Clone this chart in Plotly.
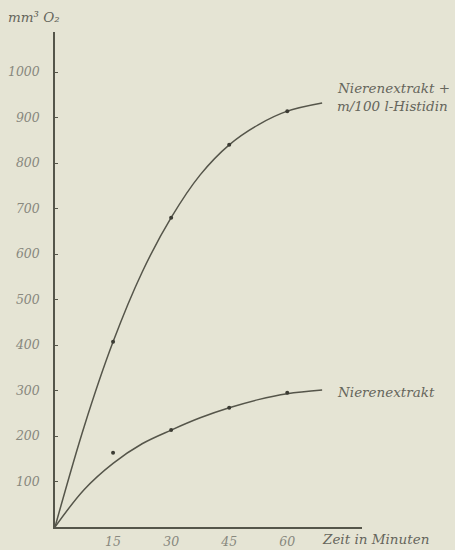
import plotly.graph_objects as go

# Measured oxygen uptake (mm³ O2) at the sampling times
times = [15, 30, 45, 60]
histidin_points = [407, 680, 840, 914]
extrakt_points = [163, 213, 262, 295]

# Hand-drawn smoothed curves through the measurements
curve_t = [0, 7.5, 15, 22.5, 30, 37.5, 45, 52.5, 60, 69]
histidin_curve = [0, 220, 407, 560, 680, 774, 840, 884, 914, 932]
extrakt_curve = [0, 82, 140, 183, 213, 240, 262, 280, 293, 301]

x_ticks = [15, 30, 45, 60]
y_ticks = [100, 200, 300, 400, 500, 600, 700, 800, 900, 1000]

ink = "#55554a"
paper = "#e5e4d4"
serif = "DejaVu Serif, Liberation Serif, serif"
label_font = dict(family=serif, size=13.5, color="#66665c", style="italic")
tick_font = dict(family=serif, size=12.5, color="#88887e", style="italic")

fig = go.Figure()
for ys in (histidin_curve, extrakt_curve):
    fig.add_trace(go.Scatter(x=curve_t, y=ys, mode="lines",
                             line=dict(color=ink, width=1.5, shape="spline", smoothing=1.0),
                             hoverinfo="skip", cliponaxis=False))
for ys in (histidin_points, extrakt_points):
    fig.add_trace(go.Scatter(x=times, y=ys, mode="markers",
                             marker=dict(color="#3c3c34", size=4), cliponaxis=False))

fig.update_layout(
    width=455, height=550,
    margin=dict(l=55, r=93, t=32, b=23),
    paper_bgcolor=paper, plot_bgcolor=paper,
    showlegend=False,
    xaxis=dict(range=[0, 79.3], tickvals=x_ticks, ticktext=[str(v) for v in x_ticks],
               showgrid=False, zeroline=False, showline=True, linecolor=ink, linewidth=1.5,
               ticks="", tickfont=tick_font, ticklabelstandoff=2, automargin=False),
    yaxis=dict(range=[0, 1088], tickvals=y_ticks, ticktext=[str(v) for v in y_ticks],
               showgrid=False, zeroline=False, showline=True, linecolor=ink, linewidth=1.5,
               ticks="inside", ticklen=3, tickcolor=ink, tickfont=tick_font, ticklabelstandoff=11,
               automargin=False),
    annotations=[
        dict(text="mm³ O₂", xref="paper", yref="paper", x=-0.16, y=1.0, yshift=5,
             xanchor="left", yanchor="bottom", showarrow=False, font=label_font),
        dict(text="Nierenextrakt +", xref="x", yref="y", x=72.3, y=964,
             xanchor="left", yanchor="middle", showarrow=False, font=label_font),
        dict(text="m/100 l-Histidin", xref="x", yref="y", x=72.3, y=926,
             xanchor="left", yanchor="middle", showarrow=False, font=label_font),
        dict(text="Nierenextrakt", xref="x", yref="y", x=72.3, y=296,
             xanchor="left", yanchor="middle", showarrow=False, font=label_font),
        dict(text="Zeit in Minuten", xref="x", yref="paper", x=68.5, y=0, yshift=-12,
             xanchor="left", yanchor="middle", showarrow=False, font=label_font),
    ],
)

fig.write_html("out.html")
